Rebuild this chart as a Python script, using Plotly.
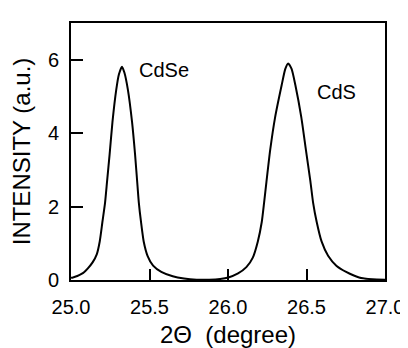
import plotly.graph_objects as go

two_theta = [25.000, 25.0125, 25.040, 25.064, 25.085, 25.106, 25.1375, 25.164, 25.183, 25.200,
             25.217, 25.230, 25.246, 25.264, 25.288, 25.305, 25.325, 25.340, 25.3625, 25.389,
             25.408, 25.424, 25.432, 25.446, 25.463, 25.4875, 25.523, 25.575, 25.648, 25.720,
             25.800, 25.880, 25.950, 26.002, 26.064, 26.117, 26.158, 26.190, 26.215, 26.230,
             26.245, 26.269, 26.300, 26.342, 26.365, 26.383, 26.405, 26.429, 26.467, 26.496,
             26.525, 26.542, 26.565, 26.596, 26.6375, 26.690, 26.7525, 26.835, 26.920, 27.000]
intensity = [0.06, 0.07, 0.11, 0.16, 0.22, 0.31, 0.48, 0.70, 1.05, 1.58,
             2.11, 2.70, 3.42, 4.30, 5.18, 5.60, 5.81, 5.65, 5.18, 4.30,
             3.42, 2.54, 2.11, 1.58, 1.05, 0.66, 0.39, 0.22, 0.10, 0.04,
             0.01, 0.01, 0.03, 0.07, 0.18, 0.35, 0.61, 1.05, 1.58, 2.11,
             2.68, 3.55, 4.43, 5.31, 5.75, 5.90, 5.75, 5.31, 4.43, 3.55,
             2.68, 2.11, 1.58, 1.05, 0.66, 0.39, 0.22, 0.07, 0.02, 0.01]

x_ticks = [25.0, 25.5, 26.0, 26.5, 27.0]
y_ticks = [0, 2, 4, 6]
labels = ["CdSe", "CdS"]
label_x = [25.42, 26.554]
label_y = [5.71, 5.13]

FONT = "Liberation Sans, Arial, sans-serif"

fig = go.Figure()
fig.add_trace(go.Scatter(x=two_theta, y=intensity, mode="lines",
                         line=dict(color="black", width=2, shape="spline", smoothing=0.6),
                         showlegend=False, hoverinfo="skip"))

for t, xx, yy in zip(labels, label_x, label_y):
    fig.add_annotation(x=xx, y=yy, text=t, showarrow=False, xanchor="left", yanchor="middle",
                       font=dict(family=FONT, size=20, color="black"))

fig.update_layout(
    width=408, height=348,
    margin=dict(l=63, r=25, t=15, b=68),
    paper_bgcolor="white", plot_bgcolor="white",
    font=dict(family=FONT, size=20, color="black"),
)
fig.update_xaxes(range=[25.0, 27.0], tickvals=x_ticks, ticktext=[f"{v:.1f}" for v in x_ticks],
                 ticks="inside", ticklen=11, tickwidth=2, tickcolor="black",
                 showline=True, linewidth=2, linecolor="black", mirror=True,
                 showgrid=False, zeroline=False, ticklabelstandoff=8,
                 title=dict(text="2\u0398  (degree)", standoff=9),
                 tickfont=dict(size=20))
fig.update_yaxes(range=[0, 7], tickvals=y_ticks, ticktext=[str(v) for v in y_ticks],
                 ticks="inside", ticklen=12, tickwidth=2, tickcolor="black",
                 showline=True, linewidth=2, linecolor="black", mirror=True,
                 showgrid=False, zeroline=False, ticklabelstandoff=6,
                 title=dict(text="INTENSITY (a.u.)", standoff=11),
                 tickfont=dict(size=20))

fig.write_html("out.html")
